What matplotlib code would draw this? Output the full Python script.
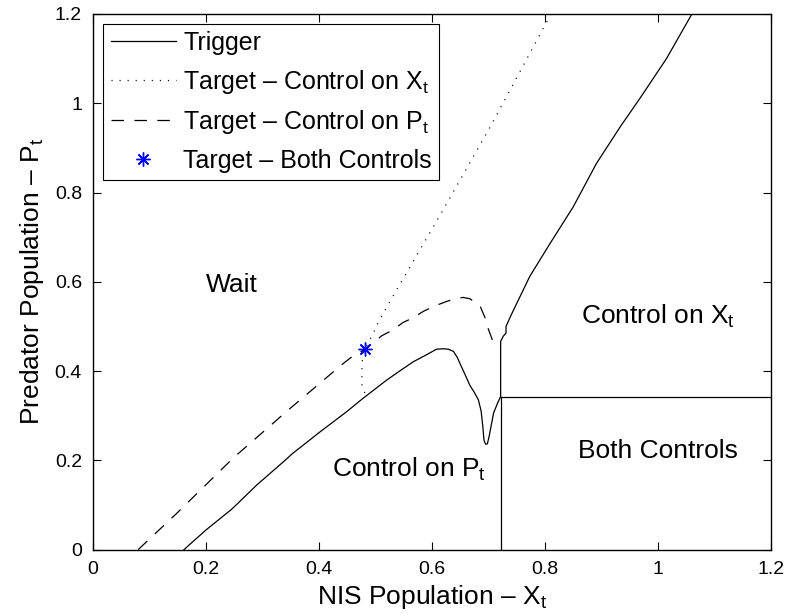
import matplotlib
matplotlib.use("Agg")
import matplotlib.pyplot as plt

plt.rcParams['font.family'] = ['Liberation Sans', 'DejaVu Sans']
plt.rcParams['mathtext.fontset'] = 'custom'
plt.rcParams['mathtext.rm'] = 'Liberation Sans'
plt.rcParams['mathtext.it'] = 'Liberation Sans'
plt.rcParams['mathtext.default'] = 'regular'
plt.rcParams['lines.scale_dashes'] = False

# Trigger boundary
trigger_x = [0.161, 0.200, 0.245, 0.255, 0.290, 0.340, 0.352, 0.400, 0.450, 0.476,
             0.520, 0.545, 0.567, 0.591, 0.608, 0.620, 0.629, 0.638, 0.645, 0.652,
             0.660, 0.667, 0.675, 0.682, 0.687, 0.690, 0.692, 0.695, 0.698, 0.701,
             0.709, 0.716, 0.7215, 0.7215, 0.726, 0.731, 0.731, 0.741, 0.773, 0.809,
             0.850, 0.891, 0.933, 0.968, 1.015, 1.060]
trigger_y = [0.000, 0.044, 0.090, 0.102, 0.145, 0.200, 0.214, 0.262, 0.310, 0.337,
             0.380, 0.402, 0.421, 0.437, 0.449, 0.450, 0.449, 0.444, 0.430, 0.410,
             0.388, 0.368, 0.352, 0.336, 0.310, 0.275, 0.245, 0.236, 0.237, 0.253,
             0.306, 0.328, 0.343, 0.466, 0.478, 0.485, 0.500, 0.528, 0.612, 0.686,
             0.768, 0.865, 0.947, 1.011, 1.100, 1.200]

# Target when only X is controlled
target_x_ctrl_x = [0.481, 0.476, 0.476, 0.477, 0.481, 0.490, 0.498, 0.505, 0.513, 0.521,
                   0.620, 0.703, 0.797, 0.811]
target_x_ctrl_y = [0.351, 0.370, 0.410, 0.430, 0.449, 0.470, 0.490, 0.509, 0.528, 0.546,
                   0.762, 0.947, 1.168, 1.200]

# Target when only P is controlled
target_p_ctrl_x = [0.080, 0.148, 0.248, 0.343, 0.440, 0.455, 0.481, 0.511, 0.529, 0.549,
                   0.566, 0.585, 0.605, 0.626, 0.641, 0.655, 0.667, 0.685, 0.694, 0.700,
                   0.708, 0.717, 0.7215]
target_p_ctrl_y = [0.000, 0.081, 0.205, 0.310, 0.414, 0.429, 0.449, 0.479, 0.491, 0.509,
                   0.519, 0.534, 0.546, 0.556, 0.562, 0.565, 0.562, 0.546, 0.519, 0.493,
                   0.466, 0.464, 0.465]

# Target when both controls are used
target_both_x = [0.481]
target_both_y = [0.449]

# Region boundaries for the "Both Controls" zone
x_switch = 0.7215
p_switch = 0.343
axis_max = 1.2

ticks = [0, 0.2, 0.4, 0.6, 0.8, 1, 1.2]
tick_labels = ['0', '0.2', '0.4', '0.6', '0.8', '1', '1.2']

fig = plt.figure(figsize=(7.86, 6.15), dpi=100)
ax = fig.add_axes([93 / 786, 1 - 549.6 / 615, 678 / 786, 535.6 / 615])

lw = 0.9
ax.plot(trigger_x, trigger_y, color='black', lw=lw, label='Trigger')
ax.plot(target_x_ctrl_x, target_x_ctrl_y, color='black', lw=lw,
        dashes=(0.8, 5.0), label='Target – Control on X$_t$')
ax.plot(target_p_ctrl_x, target_p_ctrl_y, color='black', lw=lw,
        dashes=(9, 7.5), label='Target – Control on P$_t$')
ax.plot(target_both_x, target_both_y, linestyle='none', marker=(8, 2, 0),
        markersize=10, markeredgewidth=1.0, color='blue',
        label='Target – Both Controls')

ax.plot([x_switch, x_switch], [0, p_switch], color='black', lw=lw)
ax.plot([x_switch, axis_max], [p_switch, p_switch], color='black', lw=lw)

fs_text = 19
ax.text(0.245, 0.578, 'Wait', fontsize=fs_text, ha='center', va='baseline')
ax.text(0.864, 0.506, 'Control on X$_t$', fontsize=fs_text, ha='left', va='baseline')
ax.text(0.4225, 0.1635, 'Control on P$_t$', fontsize=fs_text, ha='left', va='baseline')
ax.text(1.0, 0.205, 'Both Controls', fontsize=fs_text, ha='center', va='baseline')

ax.set_xlim(0, 1.2)
ax.set_ylim(0, 1.2)
ax.set_xticks(ticks)
ax.set_xticklabels(tick_labels)
ax.set_yticks(ticks)
ax.set_yticklabels(tick_labels)
ax.tick_params(direction='in', length=6, width=0.8, labelsize=14,
               top=True, right=True, pad=8)
for s in ax.spines.values():
    s.set_linewidth(1.0)

ax.set_xlabel('NIS Population – X$_t$', fontsize=19, labelpad=4)
ax.set_ylabel('Predator Population – P$_t$', fontsize=19, labelpad=6)

leg = ax.legend(loc='upper left', bbox_to_anchor=(0.0152, 0.982), borderaxespad=0,
                fontsize=18, fancybox=False, framealpha=1, edgecolor='black',
                handlelength=2.6, handletextpad=0.3, labelspacing=0.5,
                borderpad=0.3)
leg.get_frame().set_linewidth(0.8)

fig.savefig('out.png', dpi=100)
